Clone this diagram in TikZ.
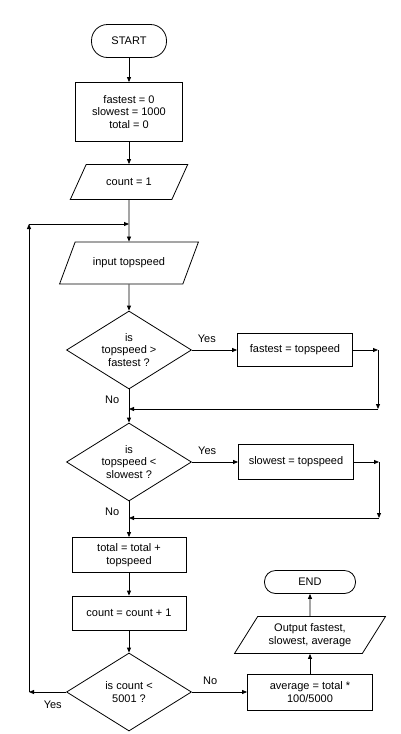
\documentclass[tikz,border=0pt]{standalone}
\usepackage{fontspec}
\setmainfont{Liberation Sans}
\usetikzlibrary{shapes.geometric,arrows.meta,positioning}
\begin{document}
\begin{tikzpicture}[x=1pt, y=1pt, line width=0.8pt, >={Triangle[length=5pt,width=4pt]},
        every node/.style={font=\fontsize{11}{12.4}\selectfont, align=center},
        term/.style={draw, rounded corners=16pt, minimum width=75pt, minimum height=33pt},
        proc/.style={draw, minimum width=114pt, minimum height=35pt},
        io/.style={draw, trapezium, trapezium left angle=56, trapezium right angle=124,
                trapezium stretches=true, minimum width=118pt, minimum height=35pt},
        dec/.style={draw, diamond, aspect=1.6, inner sep=0pt, minimum width=125pt, minimum height=78pt}]
        \useasboundingbox (0,0) rectangle (401,-734);

        % main column
        \node[term] (start) at (129,-41) {START};
        \node[proc, minimum width=107pt, minimum height=59pt] (init) [below of=start, node distance=71pt] {fastest = 0\\slowest = 1000\\total = 0};
        \node[io] (cnt) [below of=init, node distance=70pt] {count = 1};
        \node[io, minimum width=139pt, minimum height=42pt] (inp) [below of=cnt, node distance=81pt] {input topspeed};
        \node[dec] (d1) [below of=inp, node distance=87pt] {is\\topspeed >\\fastest ?};
        \node[dec] (d2) [below of=d1, node distance=112pt] {is\\topspeed <\\slowest ?};
        \node[proc] (tot) [below of=d2, node distance=93pt] {total = total +\\topspeed};
        \node[proc, minimum height=34pt] (inc) [below of=tot, node distance=58pt] {count = count + 1};
        \node[dec] (d3) [below of=inc, node distance=79pt] {is count <\\5001 ?};

        % right column
        \node[proc, minimum width=115pt, minimum height=33pt] (fast) [right of=d1, node distance=166pt] {fastest = topspeed};
        \node[proc, minimum width=115pt] (slow) [right of=d2, node distance=167pt] {slowest = topspeed};
        \node[proc, minimum width=125pt, minimum height=36pt] (avg) [right of=d3, node distance=181pt] {average = total *\\100/5000};
        \node[io, minimum width=151pt, minimum height=37pt] (out) [above of=avg, node distance=57pt] {Output fastest,\\slowest, average};
        \node[term, rounded corners=11pt, minimum width=91pt, minimum height=23pt] (end) [above of=out, node distance=53pt] {END};

        % bends
        \coordinate[right of=fast, node distance=83pt] (f1);
        \coordinate[below of=f1, node distance=59pt] (f2);
        \coordinate[right of=slow, node distance=83pt] (s1);
        \coordinate[below of=s1, node distance=56pt] (s2);
        \coordinate[left of=d3, node distance=100pt] (l1);
        \coordinate[above of=inp, node distance=39pt] (j);
        \coordinate (l2) at (l1 |- j);

        \draw[->] (start) -- (init);
        \draw[->] (init) -- (cnt);
        \draw[->] (cnt) -- (inp);
        \draw[->] (inp) -- (d1);
        \draw[->] (d1) -- node[above=4pt, pos=0.33] {Yes} (fast);
        \draw[->] (d1) -- node[left=6pt, pos=0.3] {No} (d2);
        \draw[->] (fast) -- (f1);
        \draw[->] (f1) -- (f2);
        \draw[->] (f2) -- (d1 |- f2);
        \draw[->] (d2) -- node[above=4pt, pos=0.33] {Yes} (slow);
        \draw[->] (d2) -- node[left=6pt, pos=0.3] {No} (tot);
        \draw[->] (slow) -- (s1);
        \draw[->] (s1) -- (s2);
        \draw[->] (s2) -- (d2 |- s2);
        \draw[->] (tot) -- (inc);
        \draw[->] (inc) -- (d3);
        \draw[->] (d3) -- node[above=4pt, pos=0.33] {No} (avg);
        \draw[->] (d3) -- node[below=5pt, pos=0.36] {Yes} (l1);
        \draw[->] (l1) -- (l2);
        \draw[->] (l2) -- (j);
        \draw[->] (avg) -- (out);
        \draw[->] (out) -- (end);
\end{tikzpicture}
\end{document}
